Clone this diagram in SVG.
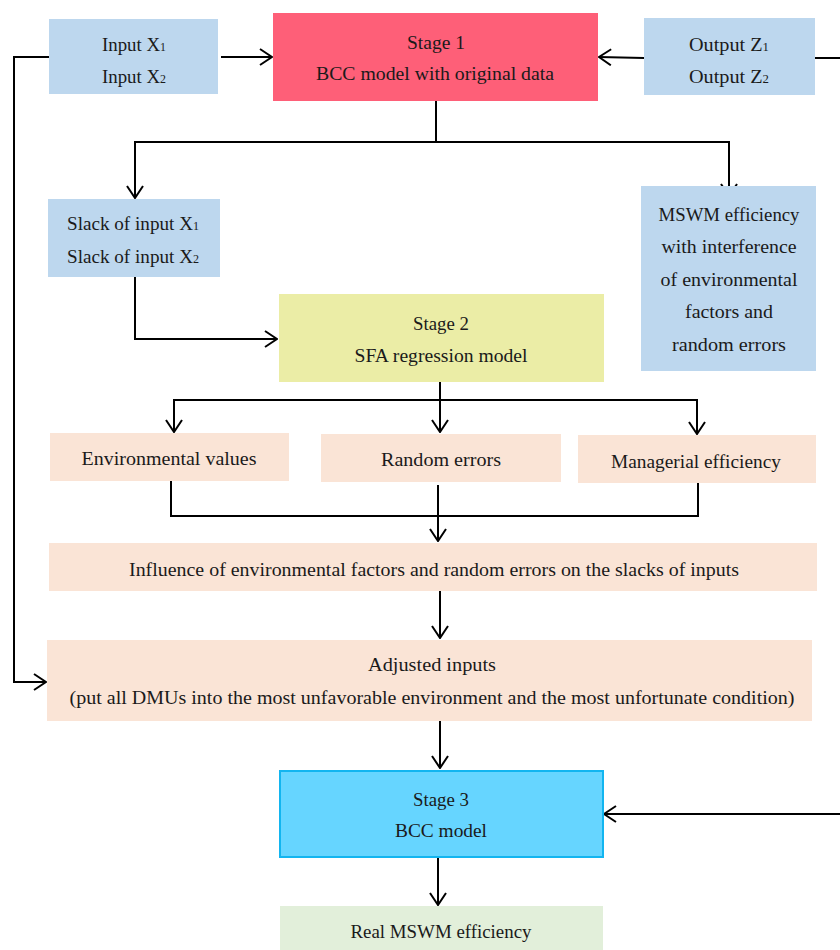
<svg xmlns="http://www.w3.org/2000/svg" width="840" height="950" viewBox="0 0 840 950">
<style>
text{font-family:"Liberation Serif","DejaVu Serif",serif;font-size:19px;fill:#1a1a1a;text-anchor:middle}
.sub{font-size:12px}
.con{fill:none;stroke:#000;stroke-width:2}
.blue{fill:#BDD7EE}
.peach{fill:#FAE4D6}
</style>
<defs>
<marker id="ah" markerUnits="userSpaceOnUse" markerWidth="14" markerHeight="18" viewBox="0 0 14 18" refX="13" refY="9" orient="auto">
<path d="M1,1 L13,9 L1,17" fill="none" stroke="#000" stroke-width="2"/>
</marker>
</defs>
<rect width="840" height="950" fill="#fff"/>
<g id="connectors">
<line class="con" x1="221" y1="57" x2="272" y2="57" marker-end="url(#ah)"/>
<line class="con" x1="644" y1="58" x2="599" y2="57" marker-end="url(#ah)"/>
<line class="con" x1="815" y1="58" x2="840" y2="58"/>
<polyline class="con" points="49,57 14,57 14,682 46,682" marker-end="url(#ah)"/>
<polyline class="con" points="436,101 436,142 135,142 135,198" marker-end="url(#ah)"/>
<polyline class="con" points="436,142 729,142 729,196" marker-end="url(#ah)"/>
<polyline class="con" points="135,277 135,339 277,339" marker-end="url(#ah)"/>
<line class="con" x1="440" y1="382" x2="440" y2="432" marker-end="url(#ah)"/>
<polyline class="con" points="174,432 174,400 697,400 697,434" marker-end="url(#ah)"/>
<line class="con" x1="174" y1="400" x2="174" y2="432" marker-end="url(#ah)"/>
<polyline class="con" points="171,481 171,516 698,516 698,483"/>
<line class="con" x1="438" y1="485" x2="438" y2="541" marker-end="url(#ah)"/>
<line class="con" x1="440" y1="591" x2="440" y2="638" marker-end="url(#ah)"/>
<line class="con" x1="440" y1="721" x2="440" y2="768" marker-end="url(#ah)"/>
<line class="con" x1="840" y1="814" x2="604" y2="814" marker-end="url(#ah)"/>
<line class="con" x1="438" y1="858" x2="438" y2="905" marker-end="url(#ah)"/>
</g>
<g id="input">
<rect class="blue" x="49" y="19" width="169" height="75"/>
<text x="134" y="51" textLength="64" lengthAdjust="spacingAndGlyphs">Input X<tspan class="sub">1</tspan></text>
<text x="134" y="83" textLength="64" lengthAdjust="spacingAndGlyphs">Input X<tspan class="sub">2</tspan></text>
</g>
<g id="stage1">
<rect x="273" y="13" width="325" height="88" fill="#FE5F78"/>
<text x="436" y="49" textLength="58" lengthAdjust="spacingAndGlyphs">Stage 1</text>
<text x="435" y="80" textLength="238" lengthAdjust="spacingAndGlyphs">BCC model with original data</text>
</g>
<g id="output">
<rect class="blue" x="644" y="18" width="171" height="77"/>
<text x="729" y="51" textLength="80" lengthAdjust="spacingAndGlyphs">Output Z<tspan class="sub">1</tspan></text>
<text x="729" y="83" textLength="80" lengthAdjust="spacingAndGlyphs">Output Z<tspan class="sub">2</tspan></text>
</g>
<g id="slack">
<rect class="blue" x="48" y="199" width="172" height="78"/>
<text x="133" y="230" textLength="132" lengthAdjust="spacingAndGlyphs">Slack of input X<tspan class="sub">1</tspan></text>
<text x="133" y="263" textLength="132" lengthAdjust="spacingAndGlyphs">Slack of input X<tspan class="sub">2</tspan></text>
</g>
<g id="mswm">
<rect class="blue" x="641" y="186" width="175" height="185"/>
<text x="729" y="221" textLength="141" lengthAdjust="spacingAndGlyphs">MSWM efficiency</text>
<text x="729" y="253" textLength="135" lengthAdjust="spacingAndGlyphs">with interference</text>
<text x="729" y="286" textLength="137" lengthAdjust="spacingAndGlyphs">of environmental</text>
<text x="729" y="318" textLength="88" lengthAdjust="spacingAndGlyphs">factors and</text>
<text x="729" y="351" textLength="114" lengthAdjust="spacingAndGlyphs">random errors</text>
</g>
<g id="stage2">
<rect x="279" y="294" width="325" height="88" fill="#EBEDA6"/>
<text x="441" y="330" textLength="56" lengthAdjust="spacingAndGlyphs">Stage 2</text>
<text x="441" y="362" textLength="173" lengthAdjust="spacingAndGlyphs">SFA regression model</text>
</g>
<g id="env">
<rect class="peach" x="50" y="433" width="239" height="48"/>
<text x="169" y="465" textLength="175" lengthAdjust="spacingAndGlyphs">Environmental values</text>
</g>
<g id="random">
<rect class="peach" x="321" y="434" width="240" height="48"/>
<text x="441" y="466" textLength="120" lengthAdjust="spacingAndGlyphs">Random errors</text>
</g>
<g id="managerial">
<rect class="peach" x="578" y="435" width="238" height="48"/>
<text x="696" y="468" textLength="170" lengthAdjust="spacingAndGlyphs">Managerial efficiency</text>
</g>
<g id="influence">
<rect class="peach" x="49" y="543" width="768" height="48"/>
<text x="434" y="576" textLength="610" lengthAdjust="spacingAndGlyphs">Influence of environmental factors and random errors on the slacks of inputs</text>
</g>
<g id="adjusted">
<rect class="peach" x="47" y="640" width="765" height="81"/>
<text x="432" y="671" textLength="128" lengthAdjust="spacingAndGlyphs">Adjusted inputs</text>
<text x="432" y="704" textLength="725" lengthAdjust="spacingAndGlyphs">(put all DMUs into the most unfavorable environment and the most unfortunate condition)</text>
</g>
<g id="stage3">
<rect x="280" y="771" width="323" height="86" fill="#66D5FF" stroke="#12B5F0" stroke-width="2"/>
<text x="441" y="806" textLength="56" lengthAdjust="spacingAndGlyphs">Stage 3</text>
<text x="441" y="837" textLength="92" lengthAdjust="spacingAndGlyphs">BCC model</text>
</g>
<g id="real">
<rect x="280" y="906" width="323" height="44" fill="#E2EFDA"/>
<text x="441" y="938" textLength="181" lengthAdjust="spacingAndGlyphs">Real MSWM efficiency</text>
</g>
</svg>
